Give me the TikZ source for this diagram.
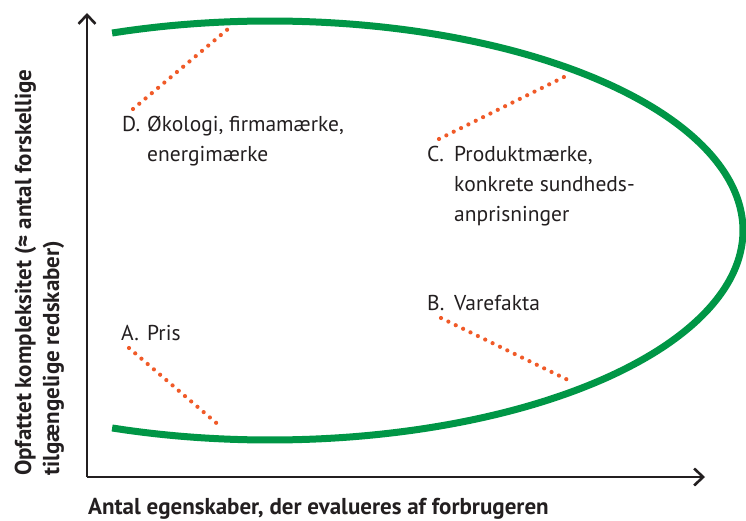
\documentclass[tikz,border=0pt]{standalone}
\usepackage{fontspec}
\setmainfont{PT Sans}
\usetikzlibrary{arrows.meta}
\definecolor{curvegreen}{RGB}{0,150,70}
\definecolor{leader}{RGB}{240,90,40}
\definecolor{axisgray}{RGB}{35,31,32}
\tikzset{
  axisline/.style={draw=axisgray, line width=2.6pt, -{Straight Barb[length=9pt,width=17pt]}},
  greencurve/.style={draw=curvegreen, line width=7pt},
  leaderline/.style={draw=leader, line width=4.2pt, line cap=round, dash pattern=on 0pt off 8.2pt},
  lbl/.style={inner sep=0pt, anchor=base west, font=\fontsize{21.5}{30}\selectfont, text=axisgray},
  axlbl/.style={inner sep=0pt, anchor=base west, font=\fontsize{23}{28}\selectfont\bfseries, text=axisgray}
}
\begin{document}
\begin{tikzpicture}[x=1pt,y=-1pt]
\useasboundingbox (0,0) rectangle (746,521);
% axes
\coordinate (O) at (87,477);
\coordinate (Ytip) at (87,13);
\coordinate (Xtip) at (705,477);
\draw[axisline] (O) -- (Ytip);
\draw[axisline] (O) -- (Xtip);
% green curve
\draw[greencurve] plot[domain=109.5:-109.5, samples=120, smooth] ({270+473*cos(\x)}, {230.5-209.5*sin(\x)});
% labels
\node[lbl] (Dl) at (122,132) {D.};
\node[lbl] (Dt) at (147,132) {\begin{tabular}[t]{@{}l@{}}Økologi, firmamærke,\\energimærke\end{tabular}};
\node[lbl] (Cl) at (427,162) {C.};
\node[lbl] (Ct) at (454,162) {\begin{tabular}[t]{@{}l@{}}Produktmærke,\\konkrete sundheds-\\anprisninger\end{tabular}};
\node[lbl] (Bl) at (427,310) {B.};
\node[lbl] (Bt) at (454,310) {Varefakta};
\node[lbl] (Al) at (121,340) {A.};
\node[lbl] (At) at (147,340) {Pris};
% leader lines
\coordinate (D1) at (133,109); \coordinate (D2) at (228,29);
\coordinate (C1) at (439,139); \coordinate (C2) at (566,76);
\coordinate (B1) at (441,318); \coordinate (B2) at (568,380);
\coordinate (A1) at (129,348); \coordinate (A2) at (221,427);
\draw[leaderline] (D1) -- (D2);
\draw[leaderline] (C1) -- (C2);
\draw[leaderline] (B1) -- (B2);
\draw[leaderline] (A1) -- (A2);
% axis labels
\node[axlbl] (xlab) at (88,514) {Antal egenskaber, der evalueres af forbrugeren};
\node[axlbl, rotate=90] (ylab) at (31,476) {\begin{tabular}[t]{@{}l@{}}Opfattet kompleksitet (≈ antal forskellige\\tilgængelige redskaber)\end{tabular}};
\end{tikzpicture}
\end{document}
